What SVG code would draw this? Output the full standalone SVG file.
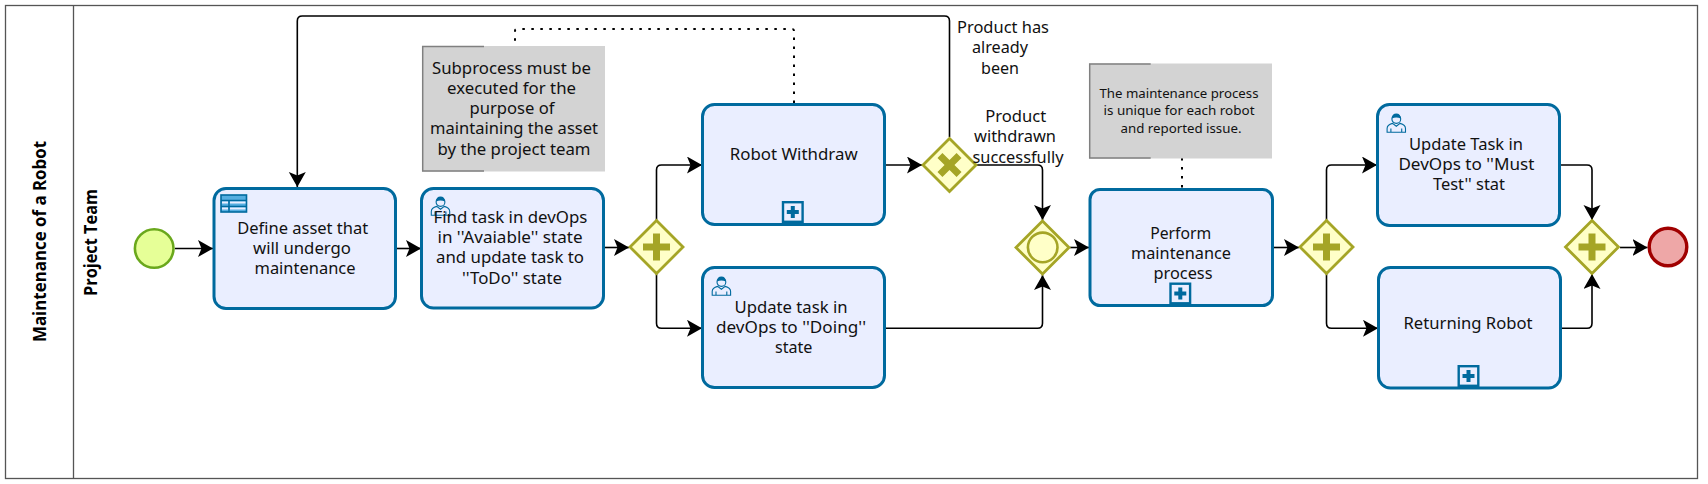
<svg xmlns="http://www.w3.org/2000/svg" width="1708" height="484" viewBox="0 0 1708 484">
<style>
text{font-family:"Noto Sans","Open Sans","Liberation Sans",sans-serif;font-size:16.5px;fill:#111;text-anchor:middle}
.small{font-size:12.5px}
.lane{font-family:"Open Sans","Noto Sans",sans-serif;font-weight:700;font-size:18px;fill:#000}
.frame{fill:#fff;stroke:#555;stroke-width:1.3}
.task{fill:#eaeeff;stroke:#006a9e;stroke-width:3}
.gw{fill:#ffffc8;stroke:#a5a526;stroke-width:2.8}
.sym{fill:#a5a526}
.flow{fill:none;stroke:#000;stroke-width:1.6;marker-end:url(#arrow)}
.assoc{fill:none;stroke:#000;stroke-width:2;stroke-dasharray:2.5 6.5}
.note{fill:#d3d3d3}
.bracket{fill:none;stroke:#808080;stroke-width:1.5}
</style>
<defs>
<marker id="arrow" markerUnits="userSpaceOnUse" markerWidth="17" markerHeight="18" refX="15" refY="8.5" orient="auto"><path d="M0 0 L15 8.5 L0 17 L3.5 8.5Z" fill="#000"/></marker>
<g id="user">
<path d="M0.8 19.3V15.4Q0.8 12 6.2 10.4L10 13.2L13.8 10.4Q19.2 12 19.2 15.4V19.3Z M4.6 19V15.5 M15.4 19V15.5" fill="none" stroke="#006a9e" stroke-width="1.1"/>
<circle cx="10" cy="6" r="4.4" fill="#eaeeff" stroke="#006a9e" stroke-width="1.1"/>
<path d="M5.6 5.6Q5.8 0.6 10 0.6Q14.2 0.6 14.4 5.6Q10 3.4 5.6 5.6Z" fill="#006a9e"/>
</g>
<g id="sub">
<rect x="1.2" y="1.2" width="19.6" height="19.6" fill="#eaeeff" stroke="#006a9e" stroke-width="2.4"/>
<path d="M9 5H13V9H17V13H13V17H9V13H5V9H9Z" fill="#006a9e"/>
</g>
<path id="plus" class="sym" d="M-3.5 -13.5H3.5V-3.5H13.5V3.5H3.5V13.5H-3.5V3.5H-13.5V-3.5H-3.5Z"/>
<path id="diamond" class="gw" d="M0 -26.5L26.5 0L0 26.5L-26.5 0Z"/>
</defs>

<g id="pool">
<rect class="frame" x="5.5" y="5.5" width="1692" height="473"/>
<line class="frame" x1="73.5" y1="5.5" x2="73.5" y2="478.5"/>
<text class="lane" transform="translate(45.5 241.5) rotate(-90)" textLength="201" lengthAdjust="spacingAndGlyphs">Maintenance of a Robot</text>
<text class="lane" transform="translate(97 242.5) rotate(-90)" textLength="107" lengthAdjust="spacingAndGlyphs">Project Team</text>
</g>

<g id="connectors">
<path class="assoc" d="M794 103V31Q794 29 792 29H517Q515 29 515 31V46"/>
<path class="assoc" d="M1182 158V188"/>
<path class="flow" d="M949.5 137V21Q949.5 16 944.5 16H302.3Q297.3 16 297.3 21V187"/>
<path class="flow" d="M175 248.5H213"/>
<path class="flow" d="M396 248.5H421"/>
<path class="flow" d="M604 247.5H629"/>
<path class="flow" d="M656.5 220V170Q656.5 165 661.5 165H702"/>
<path class="flow" d="M656.5 274V323.3Q656.5 328.3 661.5 328.3H702"/>
<path class="flow" d="M885 165H922"/>
<path class="flow" d="M976 165H1037.5Q1042.5 165 1042.5 170V220"/>
<path class="flow" d="M885 328.3H1037.5Q1042.5 328.3 1042.5 323.3V275"/>
<path class="flow" d="M1070 247.5H1089"/>
<path class="flow" d="M1273 247.5H1299"/>
<path class="flow" d="M1326.5 220V170Q1326.5 165 1331.5 165H1377"/>
<path class="flow" d="M1326.5 274V323.3Q1326.5 328.3 1331.5 328.3H1378"/>
<path class="flow" d="M1560 165H1587Q1592 165 1592 170V220"/>
<path class="flow" d="M1560 328.3H1587Q1592 328.3 1592 323.3V274"/>
<path class="flow" d="M1620 247.5H1647.5"/>
</g>

<g id="start"><circle cx="154.2" cy="248.5" r="19.3" fill="#e6ff97" stroke="#6aa81c" stroke-width="2.6"/></g>

<g id="task-define">
<rect class="task" x="214" y="188.5" width="181.5" height="120" rx="12"/>
<rect x="221" y="195" width="25.5" height="17" fill="#55aee0" stroke="#006a9e" stroke-width="1.6"/>
<path d="M221 200.5H246.5M221 206.5H246.5M229 200.5V212" fill="none" stroke="#006a9e" stroke-width="1.4"/>
<path d="M222 202.6H228M230 202.6H245.5M222 208.6H228M230 208.6H245.5" stroke="#eaeeff" stroke-width="2"/>
<text x="302.7" y="234" textLength="131" lengthAdjust="spacingAndGlyphs">Define asset that</text>
<text x="302" y="254" textLength="98" lengthAdjust="spacingAndGlyphs">will undergo</text>
<text x="305" y="274" textLength="101" lengthAdjust="spacingAndGlyphs">maintenance</text>
</g>

<g id="task-find">
<rect class="task" x="421.5" y="188.5" width="182" height="119.5" rx="12"/>
<use href="#user" x="430.5" y="196"/>
<text x="510.4" y="222.7" textLength="154" lengthAdjust="spacingAndGlyphs">Find task in devOps</text>
<text x="510" y="242.7" textLength="145" lengthAdjust="spacingAndGlyphs">in ''Avaiable'' state</text>
<text x="510" y="263" textLength="148" lengthAdjust="spacingAndGlyphs">and update task to</text>
<text x="512" y="284" textLength="100" lengthAdjust="spacingAndGlyphs">''ToDo'' state</text>
</g>

<g id="note-subprocess">
<rect class="note" x="422" y="46" width="183" height="125.5"/>
<path class="bracket" d="M484 46.5H422.7V171H484"/>
<text x="511.5" y="74" textLength="159" lengthAdjust="spacingAndGlyphs">Subprocess must be</text>
<text x="511.5" y="94" textLength="129" lengthAdjust="spacingAndGlyphs">executed for the</text>
<text x="512" y="114" textLength="85" lengthAdjust="spacingAndGlyphs">purpose of</text>
<text x="514" y="134" textLength="168" lengthAdjust="spacingAndGlyphs">maintaining the asset</text>
<text x="514" y="155" textLength="153" lengthAdjust="spacingAndGlyphs">by the project team</text>
</g>

<g id="gateway-split-1"><use href="#diamond" x="656.5" y="247"/><use href="#plus" x="656.5" y="247"/></g>

<g id="task-withdraw">
<rect class="task" x="702.5" y="104.5" width="182" height="120" rx="12"/>
<use href="#sub" x="781.8" y="201"/>
<text x="793.7" y="160.3" textLength="128" lengthAdjust="spacingAndGlyphs">Robot Withdraw</text>
</g>

<g id="task-update-doing">
<rect class="task" x="702.5" y="267.5" width="182" height="120" rx="12"/>
<use href="#user" x="711.4" y="276"/>
<text x="791" y="313.3" textLength="113" lengthAdjust="spacingAndGlyphs">Update task in</text>
<text x="791" y="333.3" textLength="150" lengthAdjust="spacingAndGlyphs">devOps to ''Doing''</text>
<text x="793.7" y="353.3" textLength="37.5" lengthAdjust="spacingAndGlyphs">state</text>
</g>

<g id="gateway-xor">
<use href="#diamond" x="949.5" y="165"/>
<path class="sym" transform="translate(949.5 165) rotate(45)" d="M-3.5 -13.5H3.5V-3.5H13.5V3.5H3.5V13.5H-3.5V3.5H-13.5V-3.5H-3.5Z"/>
</g>

<g id="label-has-been">
<text x="1003" y="33.3" textLength="92" lengthAdjust="spacingAndGlyphs">Product has</text>
<text x="1000" y="53.3" textLength="56" lengthAdjust="spacingAndGlyphs">already</text>
<text x="1000" y="74" textLength="38" lengthAdjust="spacingAndGlyphs">been</text>
</g>
<g id="label-withdrawn">
<text x="1015.7" y="122" textLength="61" lengthAdjust="spacingAndGlyphs">Product</text>
<text x="1015" y="142.3" textLength="82" lengthAdjust="spacingAndGlyphs">withdrawn</text>
<text x="1018" y="163" textLength="91" lengthAdjust="spacingAndGlyphs">successfully</text>
</g>

<g id="gateway-event">
<use href="#diamond" x="1042.5" y="247.5"/>
<circle cx="1042.7" cy="247.4" r="14.8" fill="#ffffc8" stroke="#a5a526" stroke-width="2.6"/>
</g>

<g id="task-perform">
<rect class="task" x="1090" y="189.5" width="182.5" height="116" rx="10"/>
<use href="#sub" x="1169.3" y="282.5"/>
<text x="1180.7" y="238.7" textLength="61" lengthAdjust="spacingAndGlyphs">Perform</text>
<text x="1181" y="259.3" textLength="100" lengthAdjust="spacingAndGlyphs">maintenance</text>
<text x="1183" y="279.3" textLength="59" lengthAdjust="spacingAndGlyphs">process</text>
</g>

<g id="note-maintenance">
<rect class="note" x="1089" y="63.5" width="183" height="95"/>
<path class="bracket" d="M1150.7 64H1089.7V158H1150.7"/>
<text class="small" x="1179" y="98.3" textLength="159" lengthAdjust="spacingAndGlyphs">The maintenance process</text>
<text class="small" x="1179" y="115.3" textLength="151" lengthAdjust="spacingAndGlyphs">is unique for each robot</text>
<text class="small" x="1181" y="133.3" textLength="121" lengthAdjust="spacingAndGlyphs">and reported issue.</text>
</g>

<g id="gateway-split-2"><use href="#diamond" x="1326.5" y="247"/><use href="#plus" x="1326.5" y="247"/></g>

<g id="task-update-test">
<rect class="task" x="1377.5" y="104.5" width="182" height="121" rx="12"/>
<use href="#user" x="1386.3" y="113"/>
<text x="1466" y="150" textLength="114" lengthAdjust="spacingAndGlyphs">Update Task in</text>
<text x="1466.4" y="170.3" textLength="136" lengthAdjust="spacingAndGlyphs">DevOps to ''Must</text>
<text x="1469" y="190" textLength="72" lengthAdjust="spacingAndGlyphs">Test'' stat</text>
</g>

<g id="task-returning">
<rect class="task" x="1378.5" y="267.5" width="182" height="120.5" rx="12"/>
<use href="#sub" x="1457.5" y="365"/>
<text x="1468" y="329.3" textLength="129" lengthAdjust="spacingAndGlyphs">Returning Robot</text>
</g>

<g id="gateway-join"><use href="#diamond" x="1592" y="247"/><use href="#plus" x="1592" y="247"/></g>

<g id="end"><circle cx="1668" cy="247" r="18.8" fill="#eea7a7" stroke="#a00000" stroke-width="3.4"/></g>
</svg>
